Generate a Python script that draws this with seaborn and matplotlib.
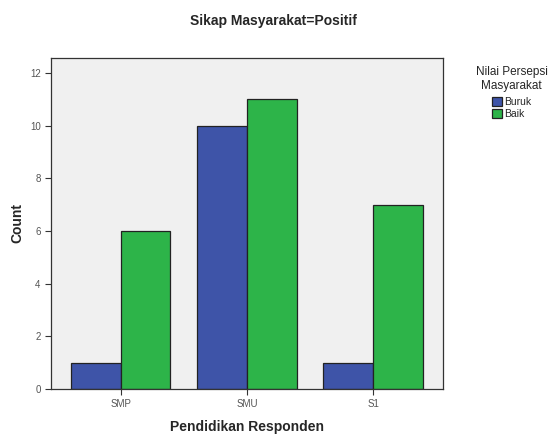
import pandas as pd
import seaborn as sns
import matplotlib.pyplot as plt

# data
pendidikan = ['SMP', 'SMU', 'S1']
buruk = [1, 10, 1]
baik = [6, 11, 7]

df = pd.DataFrame({
    'Pendidikan Responden': pendidikan * 2,
    'Nilai Persepsi Masyarakat': ['Buruk'] * 3 + ['Baik'] * 3,
    'Count': buruk + baik,
})

sns.set_style('white')
plt.rcParams['font.family'] = ['Liberation Sans', 'DejaVu Sans']

fig = plt.figure(figsize=(5.52, 4.36), dpi=100)
ax = fig.add_axes([0.0924, 0.108, 0.7101, 0.759])
ax.set_facecolor('#f0f0f0')

sns.barplot(data=df, x='Pendidikan Responden', y='Count', hue='Nilai Persepsi Masyarakat',
            palette=['#3e54a8', '#2db449'], width=0.79, edgecolor='#222222',
            linewidth=0.9, saturation=1, ax=ax)

ax.set_xlim(-0.55, 2.55)
ax.set_ylim(0, 12.57)
ax.set_yticks([0, 2, 4, 6, 8, 10, 12])
ax.tick_params(axis='both', direction='out', length=4, width=0.8, colors='#333333',
               labelsize=7, labelcolor='#555555', left=True, bottom=True)
for s in ax.spines.values():
    s.set_color('#333333')
    s.set_linewidth(0.9)

ax.set_xlabel('Pendidikan Responden', fontsize=10, fontweight='bold', labelpad=8)
ax.set_ylabel('Count', fontsize=10, fontweight='bold', labelpad=4)
fig.suptitle('Sikap Masyarakat=Positif', x=0.495, y=0.968, fontsize=10, fontweight='bold')

# legend placed to the right, title centred above the entries
leg = ax.legend(title='Nilai Persepsi\nMasyarakat', loc='upper center', bbox_to_anchor=(1.175, 1.005),
                frameon=False, fontsize=7.5, title_fontsize=8.5, handlelength=1.0,
                handleheight=1.0, handletextpad=0.2, labelspacing=0.15)
leg._legend_box.align = 'center'
leg._legend_box.sep = 4
leg.get_title().set_multialignment('center')

fig.savefig('out.png', dpi=100)
